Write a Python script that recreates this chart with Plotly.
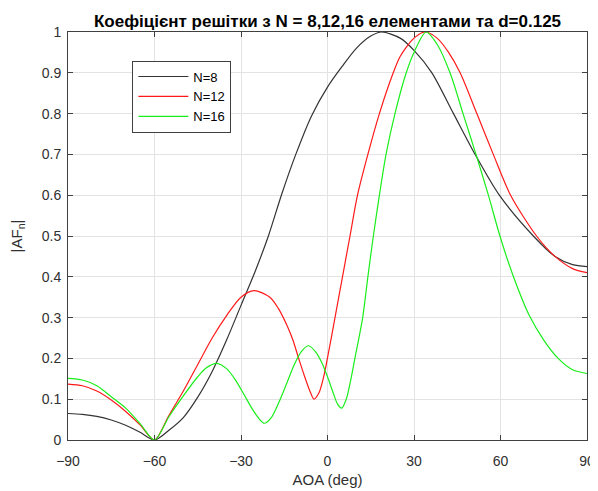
import plotly.graph_objects as go

# Angle-of-arrival samples (deg) and |AF| values
aoa_n8 = [-90, -85, -80, -75, -70, -65, -60, -55, -50, -45, -40, -35, -30, -25, -20.5,
          -16, -11, -5.5, 0, 5, 10, 15, 18.8, 25.2, 30, 36.2, 43.7, 51.2, 59.6, 71.4,
          78.9, 85, 90]
af_n8 = [0.065, 0.063, 0.058, 0.049, 0.036, 0.019, 0.0, 0.024, 0.055, 0.105, 0.168, 0.245,
         0.33, 0.415, 0.5, 0.6, 0.7, 0.795, 0.865, 0.915, 0.96, 0.99, 1.0, 0.985, 0.955,
         0.9, 0.8, 0.7, 0.6, 0.5, 0.45, 0.43, 0.425]

aoa_n12 = [-90, -85, -80, -75, -70, -65, -60, -55, -50, -45, -40, -35, -30, -25.5, -20,
           -17, -14, -12, -10, -8, -6, -4.7, -3, -1.5, -0.3, 2.6, 5.2, 7.8, 10.4, 14, 18,
           22.8, 25.2, 30, 33.8, 38, 42, 46, 51.8, 57.5, 63.5, 72.5, 78.9, 85, 90]
af_n12 = [0.137, 0.133, 0.12, 0.098, 0.07, 0.037, 0.0, 0.06, 0.12, 0.185, 0.25, 0.305,
          0.35, 0.366, 0.35, 0.322, 0.28, 0.245, 0.2, 0.157, 0.118, 0.1, 0.115, 0.15,
          0.19, 0.3, 0.4, 0.5, 0.6, 0.7, 0.8, 0.9, 0.94, 0.985, 1.0, 0.985, 0.95, 0.9,
          0.8, 0.7, 0.6, 0.5, 0.45, 0.42, 0.41]

aoa_n16 = [-90, -85, -80, -75, -70, -65, -60, -55, -50, -45, -42, -38.4, -35, -32, -29,
           -26, -23.5, -21.9, -19.5, -17, -14.3, -11.5, -9, -6.6, -4, -2, 0, 2, 3.5, 4.9,
           6.5, 8, 9.5, 12.2, 14, 15.9, 18, 20.3, 23.4, 27.3, 30, 34.2, 38, 42.5, 47,
           51.5, 55.8, 59.8, 64.5, 70, 75, 80, 85, 90]
af_n16 = [0.151, 0.147, 0.133, 0.106, 0.078, 0.04, 0.0, 0.057, 0.108, 0.155, 0.177, 0.188,
          0.175, 0.148, 0.112, 0.075, 0.05, 0.041, 0.055, 0.09, 0.136, 0.185, 0.217,
          0.231, 0.215, 0.19, 0.155, 0.115, 0.088, 0.078, 0.1, 0.145, 0.2, 0.3, 0.4,
          0.5, 0.6, 0.7, 0.8, 0.9, 0.95, 1.0, 0.97, 0.9, 0.8, 0.7, 0.6, 0.5, 0.4,
          0.305, 0.245, 0.2, 0.172, 0.163]

x_ticks = [-90, -60, -30, 0, 30, 60, 90]
y_ticks = [0, 0.1, 0.2, 0.3, 0.4, 0.5, 0.6, 0.7, 0.8, 0.9, 1]
y_tick_text = ["0", "0.1", "0.2", "0.3", "0.4", "0.5", "0.6", "0.7", "0.8", "0.9", "1"]

series = [
    ("N=8", aoa_n8, af_n8, "#333333"),
    ("N=12", aoa_n12, af_n12, "#ff1a1a"),
    ("N=16", aoa_n16, af_n16, "#1aee1a"),
]

fig = go.Figure()
for name, xs, ys, col in series:
    fig.add_trace(go.Scatter(
        x=xs, y=ys, mode="lines", name=name,
        line=dict(color=col, width=1.2, shape="spline", smoothing=0.8),
    ))

font_family = "Liberation Sans, Arial, sans-serif"
axis_common = dict(
    showgrid=True, gridcolor="#e3e3e3", gridwidth=1,
    showline=True, linecolor="#404040", linewidth=1,
    mirror="allticks", ticks="inside", ticklen=5, tickcolor="#404040",
    zeroline=False, automargin=False,
    tickfont=dict(family=font_family, size=14, color="#303030"),
)

# the page body adds an 8px margin, so the figure is 8px smaller and shifted
fig.update_layout(
    width=590, height=483,
    margin=dict(l=60, r=11, t=24, b=51),
    paper_bgcolor="white", plot_bgcolor="white",
    title=dict(
        text="<b>Коефіцієнт решітки з N = 8,12,16 елементами та d=0.125</b>",
        x=0.5, xref="paper", xanchor="center", y=1 - 13 / 483, yref="container",
        yanchor="middle",
        font=dict(family=font_family, size=17, color="black"),
    ),
    xaxis=dict(
        range=[-90, 90], tickvals=x_ticks, ticklabelstandoff=8,
        title=dict(text="AOA (deg)", font=dict(family=font_family, size=15, color="#303030"),
                   standoff=6),
        **axis_common,
    ),
    yaxis=dict(
        range=[0, 1], tickvals=y_ticks, ticktext=y_tick_text, ticklabelstandoff=3,
        title=dict(text="|AF<sub>n</sub>|", font=dict(family=font_family, size=15, color="#303030"),
                   standoff=16),
        **axis_common,
    ),
    legend=dict(
        x=0.124, y=0.93, xanchor="left", yanchor="top",
        bgcolor="white", bordercolor="#404040", borderwidth=1,
        font=dict(family=font_family, size=13, color="black"),
        tracegroupgap=0, itemwidth=50,
    ),
    showlegend=True,
)

fig.write_html("out.html")
